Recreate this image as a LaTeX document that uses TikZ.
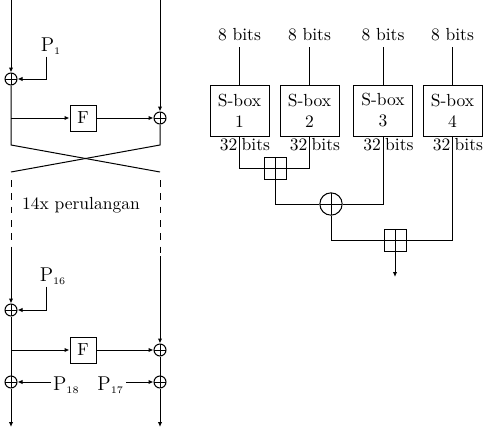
\documentclass[tikz,border=0pt]{standalone}
\usepackage{tikz}
\usetikzlibrary{arrows.meta}

\begin{document}
\begin{tikzpicture}[x=0.6pt, y=-0.6pt, line width=0.6pt,
      every node/.style={font=\fontsize{10.5pt}{12.6pt}\selectfont},
      ar/.style={-{Latex[length=3pt,width=2.6pt]}},
      xr/.style={draw, circle, inner sep=0pt, minimum size=7.2pt,
        path picture={\draw (path picture bounding box.north) -- (path picture bounding box.south)
          (path picture bounding box.west) -- (path picture bounding box.east);}},
      xb/.style={xr, minimum size=13.4pt},
      ad/.style={draw, rectangle, inner sep=0pt, minimum size=13.2pt,
        path picture={\draw (path picture bounding box.north) -- (path picture bounding box.south)
          (path picture bounding box.west) -- (path picture bounding box.east);}},
      fn/.style={draw, rectangle, inner sep=0pt, minimum size=15.6pt},
      sb/.style={draw, rectangle, inner sep=0pt, minimum width=35.4pt, minimum height=30.6pt, align=center},
      pl/.style={inner sep=1pt, font=\large},
      lb/.style={inner sep=1pt}]
    \useasboundingbox (0,0) rectangle (483,430);

    % first round
    \coordinate (l0) at (11,0);
    \coordinate (r0) at (160,0);
    \node[xr] (x1) at (11,79) {};
    \node[pl] (p1) at (51,46) {$\mathrm{P}_{\scriptscriptstyle 1}$};
    \node[fn] (f1) at (83,118) {F};
    \node[xr] (x2) at (160,118) {};
    \coordinate (s1) at (11,118);
    \coordinate (a1) at (11,145);
    \coordinate (b1) at (160,145);
    \coordinate (a2) at (11,172);
    \coordinate (b2) at (160,172);
    \draw[ar] (l0) -- (x1);
    \draw[ar] ([xshift=-2.6pt]p1.south) |- (x1);
    \draw[ar] (r0) -- (x2);
    \draw[ar] (s1) -- (f1);
    \draw[ar] (f1) -- (x2);
    \draw (x1) -- (a1) -- (b2);
    \draw (x2) -- (b1) -- (a2);

    % loop
    \coordinate (a3) at (11,252);
    \coordinate (b3) at (160,256);
    \draw[dashed, dash pattern=on 4pt off 4pt] (a2) ++(0,8) -- (a3);
    \draw[dashed, dash pattern=on 4pt off 4pt] (b2) ++(0,8) -- (b3);
    \node[anchor=west] (lp) at (16,205) {14x perulangan};

    % last round
    \node[xr] (x3) at (11,310) {};
    \node[pl] (p16) at (53,276) {$\mathrm{P}_{\scriptscriptstyle 16}$};
    \node[fn] (f2) at (83,350) {F};
    \node[xr] (x4) at (160,350) {};
    \coordinate (s2) at (11,350);
    \node[xr] (x5) at (11,382) {};
    \node[xr] (x6) at (160,382) {};
    \node[pl, anchor=west] (p18) at (51,385) {$\mathrm{P}_{\scriptscriptstyle 18}$};
    \node[pl, anchor=east] (p17) at (126,385) {$\mathrm{P}_{\scriptscriptstyle 17}$};
    \coordinate (l9) at (11,427);
    \coordinate (r9) at (160,427);
    \draw[ar] (a3) -- (x3);
    \draw[ar] ([xshift=-3.8pt]p16.south) |- (x3);
    \draw[ar] (b3) -- (x4);
    \draw[ar] (s2) -- (f2);
    \draw[ar] (f2) -- (x4);
    \draw (x3) -- (x5);
    \draw (x4) -- (x6);
    \draw[ar] (p18.west |- x5) -- (x5);
    \draw[ar] (p17.east |- x6) -- (x6);
    \draw[ar] (x5) -- (l9);
    \draw[ar] (x6) -- (r9);

    % function F
    \node (t1) at (239.5,35) {8 bits};
    \node (t2) at (309.5,35) {8 bits};
    \node (t3) at (383,35) {8 bits};
    \node (t4) at (452.5,35) {8 bits};
    \node[sb] (sb1) at (239.5,110.5) {S-box\\1};
    \node[sb] (sb2) at (309.5,110.5) {S-box\\2};
    \node[sb] (sb3) at (383,110.5) {S-box\\3};
    \node[sb] (sb4) at (452.5,110.5) {S-box\\4};
    \draw (t1) -- (sb1);
    \draw (t2) -- (sb2);
    \draw (t3) -- (sb3);
    \draw (t4) -- (sb4);
    \node[lb, anchor=north east] (n1) at (sb1.south) {32};
    \node[lb, anchor=north west] (m1) at (sb1.south) {bits};
    \node[lb, anchor=north east] (n2) at (sb2.south) {32};
    \node[lb, anchor=north west] (m2) at (sb2.south) {bits};
    \node[lb, anchor=north east] (n3) at (sb3.south) {32};
    \node[lb, anchor=north west] (m3) at (sb3.south) {bits};
    \node[lb, anchor=north east] (n4) at (sb4.south) {32};
    \node[lb, anchor=north west] (m4) at (sb4.south) {bits};
    \node[ad] (q1) at (275,168) {};
    \node[xb] (c1) at (331,204) {};
    \node[ad] (q2) at (395,240) {};
    \coordinate (out) at (395,277);
    \draw (sb1.south) |- (q1);
    \draw (sb2.south) |- (q1);
    \draw (q1) |- (c1);
    \draw (sb3.south) |- (c1);
    \draw (c1) |- (q2);
    \draw (sb4.south) |- (q2);
    \draw[ar] (q2) -- (out);
  \end{tikzpicture}
\end{document}
